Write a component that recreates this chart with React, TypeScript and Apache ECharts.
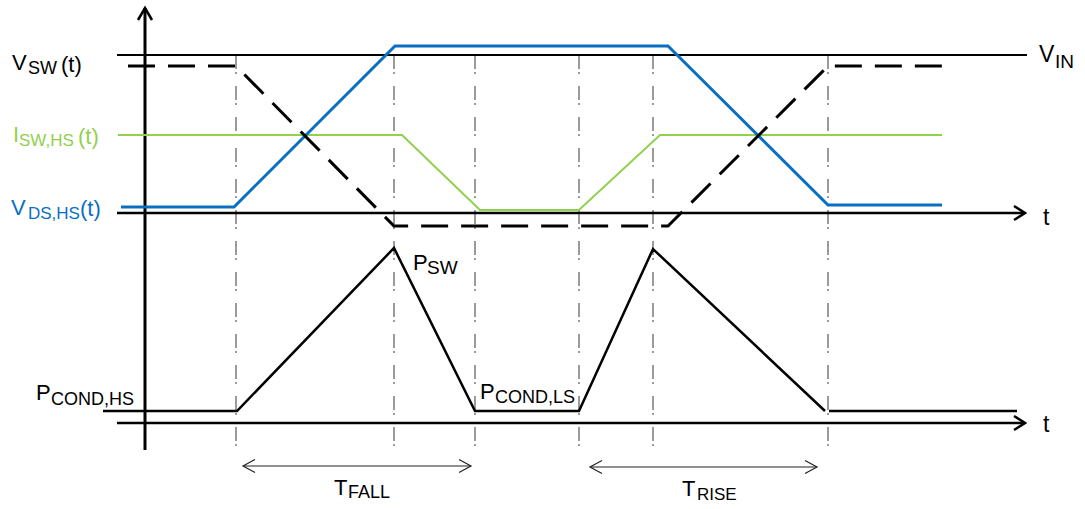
import React, { useEffect, useRef } from "react";
import * as echarts from "echarts";

// ---- Diagram data (time on x, level on y; diagram units = pixels of the reference) ----
const GUIDE_TIMES = [236, 394, 475, 579, 653, 828]; // dash-dot event markers
const GUIDE_TOP = 55;
const GUIDE_BOTTOM = 453;

const VIN_LEVEL = 55;
const VIN_SPAN = [117, 1027];
const T_AXIS_UPPER = 213;
const T_AXIS_LOWER = 423;
const T_AXIS_SPAN = [117, 1025];
const Y_AXIS_X = 145;
const Y_AXIS_SPAN = [450, 8];

const VSW_T = [128, 236, 394, 668, 828, 943];
const VSW_V = [66, 66, 226, 226, 66, 66];

const VDS_T = [121, 234, 395, 668, 828, 942];
const VDS_V = [207, 207, 46, 46, 205, 205];

const ISW_T = [118, 402, 480, 579, 660, 942];
const ISW_V = [135, 135, 210, 210, 135, 135];

const P_T = [103, 237, 394, 475, 579, 653, 825];
const P_V = [411, 411, 248, 411, 411, 249, 411];
const P_TAIL_T = [829, 1017];
const P_TAIL_V = [411, 411];

const TFALL_SPAN = [243, 471];
const TFALL_Y = 466;
const TRISE_SPAN = [590, 817];
const TRISE_Y = 467;

const BLUE = "#0A6FC2";
const GREEN = "#92D050";
const FONT = "'Liberation Sans', Arial, sans-serif";

const zip = (xs: number[], ys: number[]) => xs.map((x, i) => [x, ys[i]]);

function arrowH(tipX: number, y: number, dir: number, len: number, half: number) {
  return [
    [tipX - dir * len, y - half],
    [tipX, y],
    [tipX - dir * len, y + half],
  ];
}

function lineSeries(data: number[][], color: string, width: number, type: any = "solid", z = 2) {
  return {
    type: "line",
    data,
    showSymbol: false,
    symbol: "none",
    silent: true,
    z,
    lineStyle: { color, width, type, cap: "butt", join: "miter" },
  };
}

function txt(text: string, x: number, y: number, size: number, fill = "#000") {
  return {
    type: "text",
    x,
    y,
    silent: true,
    style: {
      text,
      font: `${size}px ${FONT}`,
      fill,
      align: "left",
      verticalAlign: "middle",
      textAlign: "left",
      textVerticalAlign: "middle",
    },
  };
}

export default function App() {
  const ref = useRef<HTMLDivElement>(null);

  useEffect(() => {
    if (!ref.current) return;
    const chart = echarts.init(ref.current, undefined, { renderer: "svg" });

    const series: any[] = [];
    // guide lines
    GUIDE_TIMES.forEach((t) => {
      series.push(lineSeries([[t, GUIDE_TOP], [t, GUIDE_BOTTOM]], "#4a4a4a", 1.1, [14, 3, 2, 12], 1));
    });
    // VIN line
    series.push(lineSeries([[VIN_SPAN[0], VIN_LEVEL], [VIN_SPAN[1], VIN_LEVEL]], "#000", 2));
    // t axes
    [T_AXIS_UPPER, T_AXIS_LOWER].forEach((y) => {
      series.push(lineSeries([[T_AXIS_SPAN[0], y], [T_AXIS_SPAN[1], y]], "#000", 2.5));
      series.push(lineSeries(arrowH(T_AXIS_SPAN[1], y, 1, 11, 7), "#000", 2.5));
    });
    // vertical axis
    series.push(lineSeries([[Y_AXIS_X, Y_AXIS_SPAN[0]], [Y_AXIS_X, Y_AXIS_SPAN[1]]], "#000", 3));
    series.push(
      lineSeries(
        [
          [Y_AXIS_X - 7, Y_AXIS_SPAN[1] + 12],
          [Y_AXIS_X, Y_AXIS_SPAN[1]],
          [Y_AXIS_X + 7, Y_AXIS_SPAN[1] + 12],
        ],
        "#000",
        2.5
      )
    );
    // signals
    series.push(lineSeries(zip(ISW_T, ISW_V), GREEN, 2, "solid", 3));
    series.push(lineSeries(zip(VDS_T, VDS_V), BLUE, 3, "solid", 4));
    series.push(lineSeries(zip(VSW_T, VSW_V), "#000", 3, [27, 13], 5));
    series.push(lineSeries(zip(P_T, P_V), "#000", 2.5, "solid", 5));
    series.push(lineSeries(zip(P_TAIL_T, P_TAIL_V), "#000", 2.5, "solid", 5));
    // timing arrows
    [
      [TFALL_SPAN, TFALL_Y],
      [TRISE_SPAN, TRISE_Y],
    ].forEach(([span, y]: any) => {
      series.push(lineSeries([[span[0], y], [span[1], y]], "#222", 1.2));
      series.push(lineSeries(arrowH(span[0], y, -1, 12, 6.5), "#222", 1.2));
      series.push(lineSeries(arrowH(span[1], y, 1, 12, 6.5), "#222", 1.2));
    });

    const graphic: any[] = [
      txt("V", 12, 62, 22),
      txt("SW", 28, 68, 18),
      txt("(t)", 61, 64, 22),

      txt("I", 13, 134, 22, GREEN),
      txt("SW,HS", 19, 140, 17, GREEN),
      txt("(t)", 78, 136, 22, GREEN),

      txt("V", 11, 207, 22, BLUE),
      txt("DS,HS", 28, 213, 17, BLUE),
      txt("(t)", 80, 208, 22, BLUE),

      txt("V", 1039, 54, 23),
      txt("IN", 1055, 61, 19),

      txt("t", 1043, 217, 23),
      txt("t", 1043, 424, 23),

      txt("P", 413, 262, 22),
      txt("SW", 427, 267, 19),

      txt("P", 36, 392, 22),
      txt("COND,HS", 51, 399, 18),

      txt("P", 480, 391, 22),
      txt("COND,LS", 495, 397, 18),

      txt("T", 334, 487, 22),
      txt("FALL", 348, 492, 18),

      txt("T", 682, 488, 22),
      txt("RISE", 697, 494, 17),
    ];

    chart.setOption({
      animation: false,
      grid: { left: 0, right: 0, top: 0, bottom: 0, containLabel: false },
      xAxis: { type: "value", min: 0, max: 1085, show: false },
      yAxis: { type: "value", min: 0, max: 509, inverse: true, show: false },
      series,
      graphic,
    });

    return () => chart.dispose();
  }, []);

  return (
    <div
      ref={ref}
      style={{ position: "fixed", left: 0, top: 0, width: 1085, height: 509, background: "#fff" }}
    />
  );
}
